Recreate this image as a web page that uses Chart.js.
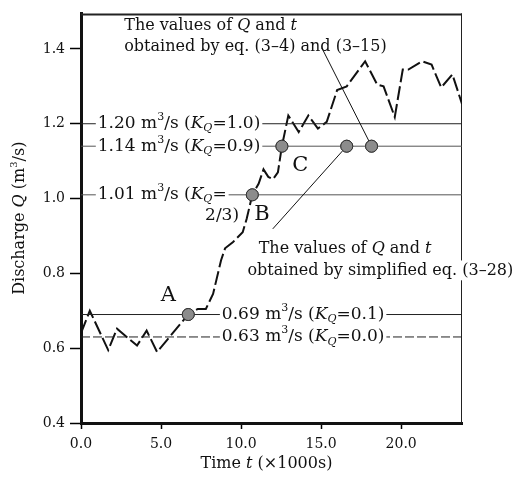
<!DOCTYPE html>
<html>
<head>
<meta charset="utf-8">
<script src="https://cdn.jsdelivr.net/npm/chart.js@4.4.1/dist/chart.umd.min.js"></script>
<style>
  html, body { margin: 0; padding: 0; background: #fff; }
  #wrap { width: 518px; height: 489px; }
</style>
</head>
<body>
<div id="wrap"><canvas id="myChart" width="518" height="489"></canvas></div>
<script>
// Datos (tiempo en miles de segundos, caudal en m3/s)
const timeK = [0.0, 0.55, 1.7, 2.25, 3.5, 4.1, 4.75, 6.7, 7.3, 7.8, 8.25, 8.75, 9.0, 9.5, 10.1, 10.35, 10.7,
  11.1, 11.4, 11.7, 12.0, 12.3, 12.55, 12.95, 13.6, 14.2, 14.8, 15.35, 16.0, 16.6, 17.75, 18.5, 18.9, 19.6,
  20.1, 20.45, 21.3, 21.9, 22.5, 23.2, 23.8];
const discharge = [0.64, 0.70, 0.595, 0.652, 0.607, 0.647, 0.59, 0.69, 0.705, 0.705, 0.745, 0.835, 0.867, 0.884, 0.91, 0.946, 1.01,
  1.04, 1.078, 1.058, 1.052, 1.07, 1.14, 1.222, 1.178, 1.222, 1.187, 1.205, 1.29, 1.30, 1.367, 1.305, 1.30, 1.218,
  1.345, 1.345, 1.367, 1.358, 1.297, 1.332, 1.253];

// Niveles de referencia y su K_Q
const levelQ = [1.20, 1.14, 1.01, 0.69, 0.63];
const levelKQ = ['1.0', '0.9', '2/3', '0.1', '0.0'];

// Puntos marcados (A, B, C y los dos calculados)
const markT = [6.7, 10.7, 12.55, 16.6, 18.15];
const markQ = [0.69, 1.01, 1.14, 1.14, 1.14];

const xTicks = [0, 5, 10, 15, 20];
const yTicks = [0.4, 0.6, 0.8, 1.0, 1.2, 1.4];
const T_MAX = 23.8;
const Q_MIN = 0.4, Q_MAX = 1.495;

const FONT = '"DejaVu Serif", serif';

// Dibuja texto con cursiva, subíndices y superíndices
function segFont(kind, size) {
  const small = Math.round(size * 0.65);
  if (kind === 'i') return 'italic ' + size + 'px ' + FONT;
  if (kind === 'sup') return small + 'px ' + FONT;
  if (kind === 'sub') return 'italic ' + small + 'px ' + FONT;
  return size + 'px ' + FONT;
}
function segWidth(ctx, segs, size) {
  let w = 0;
  segs.forEach(s => { ctx.font = segFont(s[1], size); w += ctx.measureText(s[0]).width; });
  return w;
}
function drawRich(ctx, x, y, segs, size, bg) {
  ctx.save();
  ctx.textBaseline = 'middle';
  ctx.textAlign = 'left';
  if (bg) {
    const w = segWidth(ctx, segs, size);
    ctx.fillStyle = '#fff';
    ctx.fillRect(x - 2, y - size * 0.62, w + 4, size * 1.24);
  }
  ctx.fillStyle = '#111';
  let cx = x;
  segs.forEach(s => {
    ctx.font = segFont(s[1], size);
    let dy = 0;
    if (s[1] === 'sup') dy = -size * 0.38;
    if (s[1] === 'sub') dy = size * 0.28;
    ctx.fillText(s[0], cx, y + dy);
    cx += ctx.measureText(s[0]).width;
  });
  ctx.restore();
}

function levelSegs(i) {
  return [[levelQ[i].toFixed(2) + ' m', ''], ['3', 'sup'], ['/s (', ''], ['K', 'i'], ['Q', 'sub'],
    ['=' + (levelKQ[i] === '2/3' ? '' : levelKQ[i] + ')'), '']];
}

// Posiciones de las anotaciones en coordenadas de datos
const levelLabelT = [1.05, 1.05, 1.05, 8.8, 8.8];
const notes = [
  { t: 2.7, q: 1.463, size: 16, segs: [['The values of ', ''], ['Q', 'i'], [' and ', ''], ['t', 'i']] },
  { t: 2.7, q: 1.405, size: 16, segs: [['obtained by eq. (3\u20134) and (3\u201315)', '']] },
  { t: 11.1, q: 0.866, size: 16, segs: [['The values of ', ''], ['Q', 'i'], [' and ', ''], ['t', 'i']], bg: true },
  { t: 10.4, q: 0.808, size: 16, segs: [['obtained by simplified eq. (3\u201328)', '']], bg: true },
  { t: 7.75, q: 0.955, size: 17, segs: [['2/3)', '']] }
];
const letters = [
  { t: 5.45, q: 0.742, text: 'A' },
  { t: 11.3, q: 0.958, text: 'B' },
  { t: 13.7, q: 1.087, text: 'C' }
];
// Líneas guía: desde el texto hasta un punto marcado
const leaders = [
  { t: 15.04, q: 1.403, mark: 4 },
  { t: 11.98, q: 0.919, mark: 3 }
];

const annotationPlugin = {
  id: 'annotations',
  beforeDatasetsDraw(chart) {
    const { ctx, chartArea: a } = chart;
    ctx.save();
    ctx.strokeStyle = '#222';
    ctx.lineWidth = 2;
    ctx.beginPath();
    ctx.moveTo(a.left, a.top + 1);
    ctx.lineTo(a.right, a.top + 1);
    ctx.stroke();
    ctx.lineWidth = 1;
    ctx.beginPath();
    ctx.moveTo(a.right - 0.5, a.top);
    ctx.lineTo(a.right - 0.5, a.bottom);
    ctx.stroke();
    ctx.restore();
  },
  afterDatasetsDraw(chart) {
    const { ctx, chartArea: a } = chart;
    const xs = chart.scales.x, ys = chart.scales.y;
    const px = t => xs.getPixelForValue(t);
    const py = q => ys.getPixelForValue(q);

    // líneas guía
    ctx.save();
    ctx.strokeStyle = '#111';
    ctx.lineWidth = 1;
    leaders.forEach(l => {
      ctx.beginPath();
      ctx.moveTo(px(l.t), py(l.q));
      ctx.lineTo(px(markT[l.mark]), py(markQ[l.mark]));
      ctx.stroke();
    });
    ctx.restore();

    // etiquetas de nivel
    levelQ.forEach((q, i) => drawRich(ctx, px(levelLabelT[i]), py(q), levelSegs(i), 17, true));
    notes.forEach(n => drawRich(ctx, px(n.t), py(n.q), n.segs, n.size, n.bg));

    ctx.save();
    ctx.fillStyle = '#111';
    ctx.font = '21px ' + FONT;
    ctx.textAlign = 'center';
    ctx.textBaseline = 'middle';
    letters.forEach(l => ctx.fillText(l.text, px(l.t), py(l.q)));
    ctx.restore();

    // títulos de los ejes
    const xt = [['Time ', ''], ['t', 'i'], [' (\u00d71000s)', '']];
    ctx.save();
    const wx = segWidth(ctx, xt, 16);
    drawRich(ctx, (a.left + a.right) / 2 - wx / 2 - 5, 464, xt, 16, false);
    const yt = [['Discharge ', ''], ['Q', 'i'], [' (m', ''], ['3', 'sup'], ['/s)', '']];
    const wy = segWidth(ctx, yt, 16);
    ctx.translate(20, (a.top + a.bottom) / 2);
    ctx.rotate(-Math.PI / 2);
    drawRich(ctx, -wy / 2, 0, yt, 16, false);
    ctx.restore();

    // puntos marcados encima de todo
    const meta = chart.getDatasetMeta(chart.data.datasets.length - 1);
    meta.controller.draw();
  }
};

function createChart() {
  const ctx = document.getElementById('myChart').getContext('2d');

  const levelSets = levelQ.map((q, i) => ({
    data: [{ x: 0, y: q }, { x: T_MAX, y: q }],
    showLine: true,
    borderColor: (i === 1 || i === 2) ? '#555' : '#222',
    borderWidth: 1,
    borderDash: i === 4 ? [9, 3] : [],
    pointRadius: 0
  }));

  new Chart(ctx, {
    type: 'scatter',
    data: {
      datasets: [
        ...levelSets,
        {
          data: timeK.map((t, i) => ({ x: t, y: discharge[i] })),
          showLine: true,
          borderColor: '#111',
          borderWidth: 2,
          borderDash: [14, 4],
          pointRadius: 0,
          tension: 0
        },
        {
          data: markT.map((t, i) => ({ x: t, y: markQ[i] })),
          pointRadius: 6,
          pointBackgroundColor: '#8c8c8c',
          pointBorderColor: '#333',
          pointBorderWidth: 1
        }
      ]
    },
    options: {
      responsive: false,
      animation: false,
      layout: { padding: { top: 8, right: 56, left: 0, bottom: 0 } },
      plugins: { legend: { display: false }, tooltip: { enabled: false } },
      scales: {
        x: {
          type: 'linear',
          min: 0,
          max: T_MAX,
          afterFit: s => { s.height = 66; },
          afterBuildTicks: s => { s.ticks = xTicks.map(v => ({ value: v })); },
          ticks: { callback: v => v.toFixed(1), font: { family: FONT, size: 14 }, color: '#111', padding: 7, maxRotation: 0 },
          grid: { display: true, drawOnChartArea: false, drawTicks: true, tickLength: 6, color: '#000', tickColor: '#000', tickWidth: 1.5 },
          border: { display: true, color: '#111', width: 3 }
        },
        y: {
          type: 'linear',
          min: Q_MIN,
          max: Q_MAX,
          afterFit: s => { s.width = 81; },
          afterBuildTicks: s => { s.ticks = yTicks.map(v => ({ value: v })); },
          ticks: { callback: v => v.toFixed(1), font: { family: FONT, size: 14 }, color: '#111', padding: 5 },
          grid: { display: true, drawOnChartArea: false, drawTicks: true, tickLength: 11, color: '#000', tickColor: '#000', tickWidth: 1.5 },
          border: { display: true, color: '#111', width: 3 }
        }
      }
    },
    plugins: [annotationPlugin]
  });
}

document.addEventListener('DOMContentLoaded', createChart);
</script>
</body>
</html>
